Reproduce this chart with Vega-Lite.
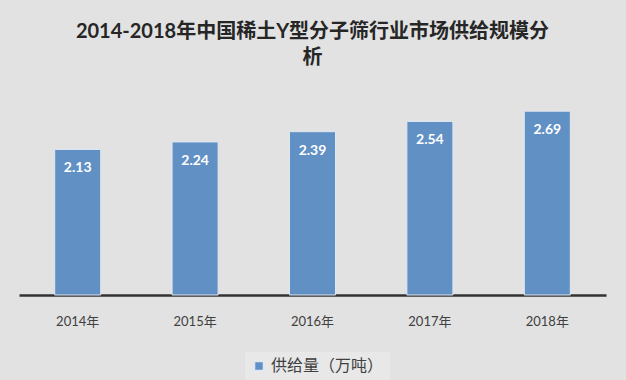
{
  "$schema": "https://vega.github.io/schema/vega-lite/v6.json",
  "width": 587,
  "height": 205,
  "autosize": {"type": "none"},
  "padding": {"left": 19, "top": 90, "right": 20, "bottom": 85},
  "background": "#e2e2e2",
  "title": {
    "text": ["2014-2018年中国稀土Y型分子筛行业市场供给规模分", "析"],
    "font": "Lato, Noto Sans CJK SC",
    "fontSize": 20,
    "fontWeight": "bold",
    "color": "#262626",
    "anchor": "middle",
    "lineHeight": 26,
    "offset": 22
  },
  "data": {
    "values": [
      {"year": "2014年", "value": 2.13, "series": "供给量（万吨）"},
      {"year": "2015年", "value": 2.24, "series": "供给量（万吨）"},
      {"year": "2016年", "value": 2.39, "series": "供给量（万吨）"},
      {"year": "2017年", "value": 2.54, "series": "供给量（万吨）"},
      {"year": "2018年", "value": 2.69, "series": "供给量（万吨）"}
    ]
  },
  "config": {
    "view": {"stroke": null},
    "font": "Lato, Noto Sans CJK SC"
  },
  "encoding": {
    "x": {
      "field": "year",
      "type": "nominal",
      "sort": null,
      "scale": {"paddingInner": 0.608, "paddingOuter": 0.304},
      "axis": {
        "title": null,
        "labelAngle": 0,
        "labelFontSize": 13,
        "labelColor": "#404040",
        "labelPadding": 20,
        "ticks": false,
        "domainColor": "#333333",
        "domainWidth": 2.5
      }
    },
    "y": {
      "field": "value",
      "type": "quantitative",
      "scale": {"domain": [0, 3]},
      "axis": null
    }
  },
  "layer": [
    {
      "mark": {"type": "bar", "stroke": "#dfe7f1", "strokeWidth": 1},
      "encoding": {
        "color": {
          "field": "series",
          "type": "nominal",
          "scale": {"range": ["#6190c5"]},
          "legend": {
            "title": null,
            "orient": "none",
            "legendX": 226,
            "legendY": 262,
            "direction": "horizontal",
            "symbolType": "square",
            "symbolSize": 80,
            "labelFontSize": 16,
            "labelColor": "#404040",
            "labelLimit": 300,
            "padding": 6,
            "fillColor": "#e8e8e8"
          }
        }
      }
    },
    {
      "mark": {
        "type": "text",
        "color": "white",
        "fontWeight": "bold",
        "fontSize": 14,
        "baseline": "middle",
        "dy": 19
      },
      "encoding": {
        "text": {"field": "value", "type": "quantitative", "format": ".2f"}
      }
    }
  ]
}
